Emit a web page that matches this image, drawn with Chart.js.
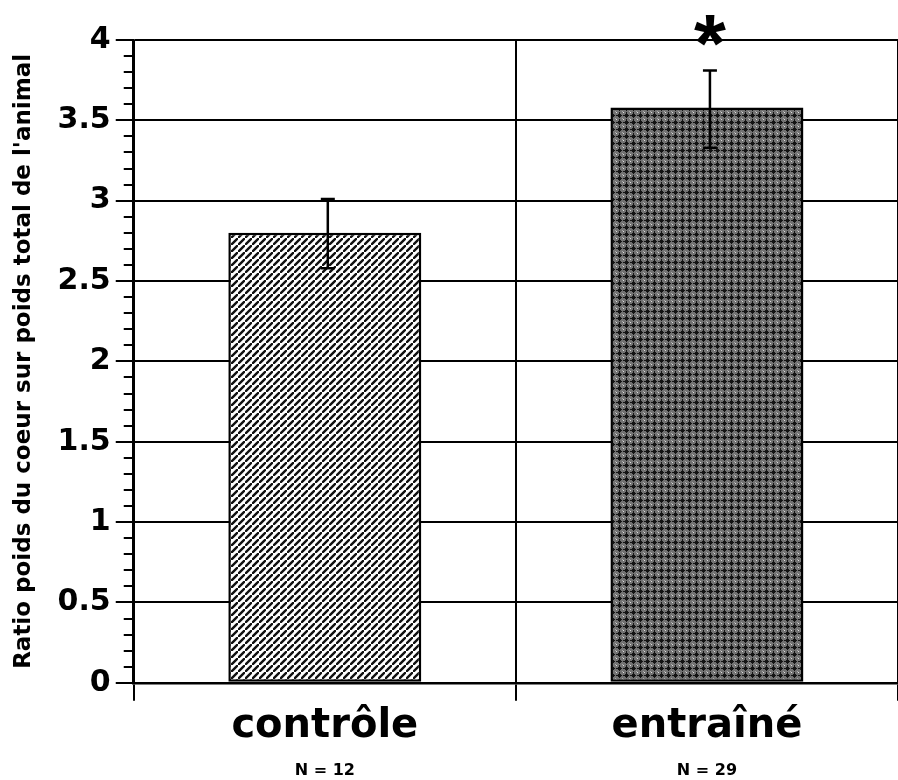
<!DOCTYPE html>
<html lang="fr">
<head>
    <meta charset="UTF-8">
    <title>Ratio poids du coeur</title>
    <script src="https://cdn.jsdelivr.net/npm/chart.js"></script>
    <style>
        body { margin: 0; background: #fff; }
        .wrap { width: 898px; height: 780px; }
    </style>
</head>
<body>
    <div class="wrap"><canvas id="heartChart" width="898" height="780"></canvas></div>

    <script>
        // data
        const groups = ["contrôle", "entraîné"];
        const sampleSizes = ["N = 12", "N = 29"];
        const ratioMeans = [2.80, 3.58];
        const errLow = [2.58, 3.33];
        const errHigh = [3.01, 3.81];
        const signif = ["", "*"];
        const yTitle = "Ratio poids du coeur sur poids total de l'animal";

        const FONT = "'DejaVu Sans'";

        // hatched fill for the control bar
        function hatchPattern() {
            const s = 7;
            const c = document.createElement("canvas");
            c.width = s; c.height = s;
            const g = c.getContext("2d");
            g.fillStyle = "#fff";
            g.fillRect(0, 0, s, s);
            g.strokeStyle = "#111";
            g.lineWidth = 2.4;
            g.beginPath();
            g.moveTo(-1, s + 1); g.lineTo(s + 1, -1);
            g.moveTo(-s - 1, 1); g.lineTo(1, -s - 1);
            g.moveTo(s - 1, 2 * s + 1); g.lineTo(2 * s + 1, s - 1);
            g.stroke();
            return g.createPattern(c, "repeat");
        }

        // dotted grey fill for the trained bar
        function dotPattern() {
            const s = 7;
            const c = document.createElement("canvas");
            c.width = s; c.height = s;
            const g = c.getContext("2d");
            g.fillStyle = "#727272";
            g.fillRect(0, 0, s, s);
            g.fillStyle = "#141414";
            g.fillRect(3, 0, 1, 6);
            g.fillRect(0, 3, 6, 1);
            g.fillRect(2, 2, 3, 3);
            g.fillStyle = "#dcdcdc";
            g.fillRect(0, 0, 1, 1);
            g.fillStyle = "#a8a8a8";
            g.fillRect(6, 6, 1, 1);
            return g.createPattern(c, "repeat");
        }

        // error bars, star, minor ticks
        const errorBars = {
            id: "errorBars",
            afterDatasetsDraw(chart) {
                const ctx = chart.ctx;
                const y = chart.scales.y;
                const meta = chart.getDatasetMeta(0);
                ctx.save();
                ctx.strokeStyle = "#000";
                ctx.lineWidth = 2.5;
                meta.data.forEach((bar, i) => {
                    const x = bar.x + 3;
                    const top = y.getPixelForValue(errHigh[i]);
                    const bot = y.getPixelForValue(errLow[i]);
                    ctx.beginPath();
                    ctx.moveTo(x, top); ctx.lineTo(x, bot);
                    ctx.moveTo(x - 7, top); ctx.lineTo(x + 7, top);
                    ctx.moveTo(x - 7, bot); ctx.lineTo(x + 7, bot);
                    ctx.stroke();
                    if (signif[i]) {
                        ctx.fillStyle = "#000";
                        ctx.font = "bold 82px 'Liberation Sans'";
                        ctx.textAlign = "center";
                        ctx.textBaseline = "alphabetic";
                        const m = ctx.measureText(signif[i]);
                        const cy = y.getPixelForValue(4) - 10;
                        const base = cy + (m.actualBoundingBoxAscent - m.actualBoundingBoxDescent) / 2;
                        ctx.fillText(signif[i], x, base);
                    }
                });
                // minor ticks every 0.1
                ctx.lineWidth = 2;
                const left = chart.chartArea.left;
                for (let v = 0; v <= 4.001; v += 0.1) {
                    const py = Math.round(y.getPixelForValue(v));
                    ctx.beginPath();
                    ctx.moveTo(left - 10, py); ctx.lineTo(left, py);
                    ctx.stroke();
                }
                ctx.restore();
            }
        };

        const lastHidden = c => c.index === 2 ? "rgba(0,0,0,0)" : "#000";

        const ctx = document.getElementById("heartChart").getContext("2d");
        new Chart(ctx, {
            type: "bar",
            data: {
                labels: groups,
                datasets: [{
                    data: ratioMeans,
                    backgroundColor: [hatchPattern(), dotPattern()],
                    borderColor: "#000",
                    borderWidth: 2.5,
                    borderSkipped: false,
                    barPercentage: 0.505,
                    categoryPercentage: 1
                }]
            },
            options: {
                responsive: false,
                animation: false,
                layout: { padding: { top: 40, right: 0, left: 10, bottom: 0 } },
                plugins: { legend: { display: false }, tooltip: { enabled: false } },
                scales: {
                    x: {
                        grid: {
                            offset: true,
                            lineWidth: 2,
                            tickLength: 18,
                            color: lastHidden,
                            tickColor: lastHidden
                        },
                        border: { color: "#000", width: 2.5 },
                        ticks: {
                            color: "#000",
                            padding: 2,
                            font: { family: FONT, size: 40, weight: "bold" }
                        }
                    },
                    x2: {
                        type: "category",
                        position: "bottom",
                        labels: sampleSizes,
                        offset: true,
                        grid: { display: false },
                        border: { display: false },
                        ticks: {
                            color: "#000",
                            padding: 0,
                            font: { family: FONT, size: 16, weight: "bold" }
                        }
                    },
                    y: {
                        min: 0,
                        max: 4,
                        ticks: {
                            stepSize: 0.5,
                            color: "#000",
                            padding: 5,
                            callback: v => String(v),
                            font: { family: FONT, size: 30, weight: "bold" }
                        },
                        grid: { color: "#000", lineWidth: 2, tickLength: 18 },
                        border: { color: "#000", width: 2.5 },
                        title: {
                            display: true,
                            text: yTitle,
                            color: "#000",
                            padding: { top: 0, bottom: 15 },
                            font: { family: FONT, size: 23, weight: "bold" }
                        }
                    }
                }
            },
            plugins: [errorBars]
        });
    </script>
</body>
</html>
